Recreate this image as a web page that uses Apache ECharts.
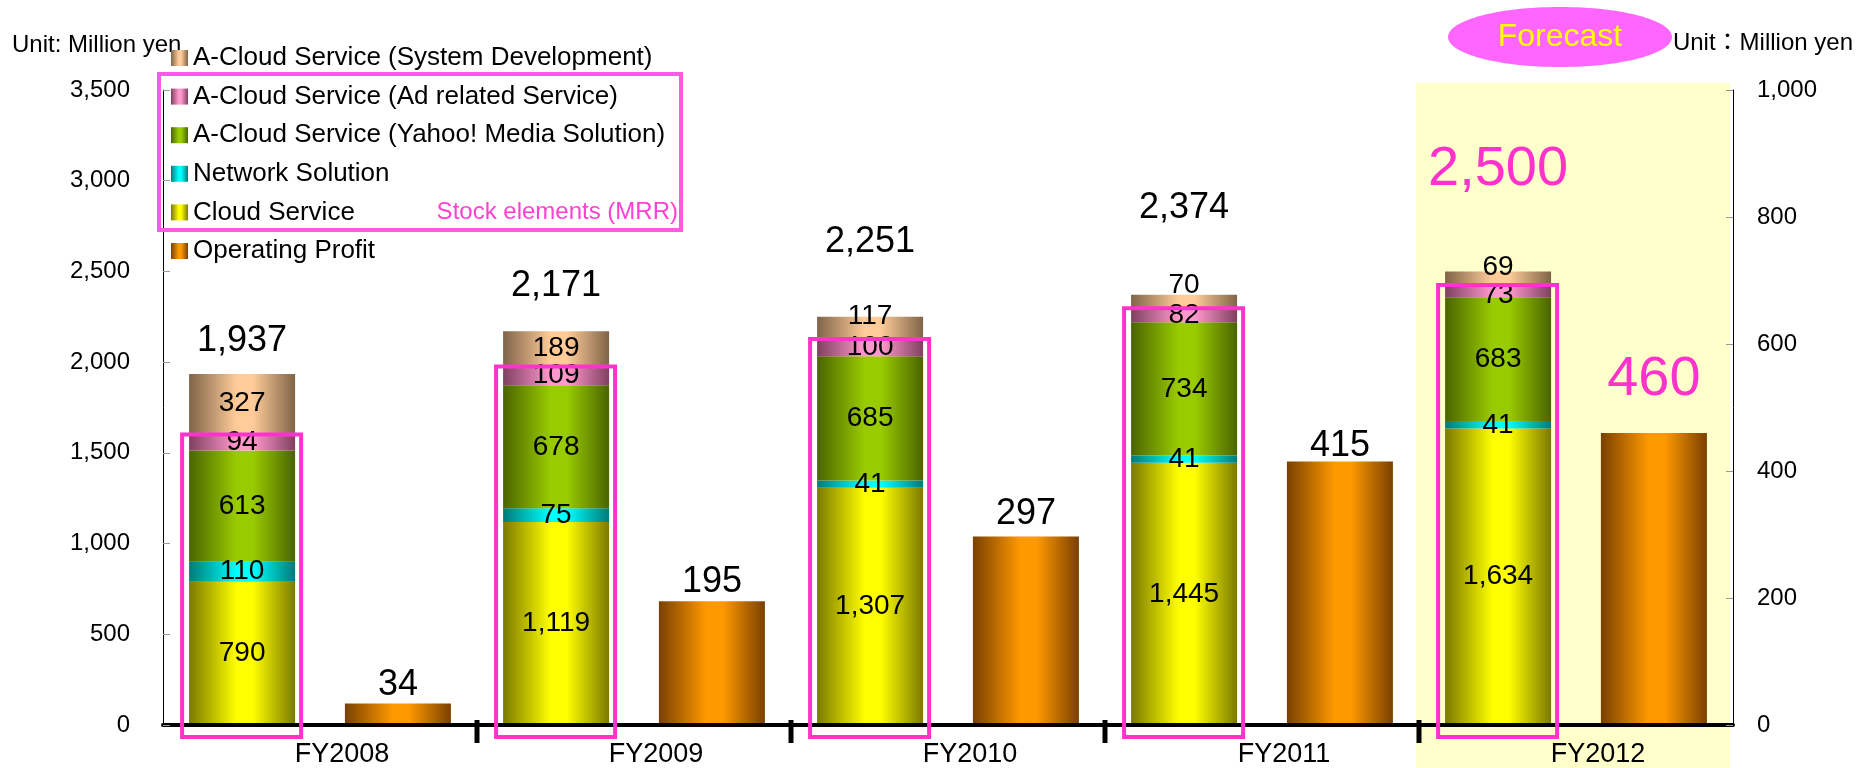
<!DOCTYPE html>
<html>
<head>
<meta charset="utf-8">
<title>Sales and Operating Profit</title>
<script src="https://cdn.jsdelivr.net/npm/echarts@6/dist/echarts.min.js"></script>
<style>
  html, body { margin: 0; padding: 0; background: #ffffff; }
  #chart { width: 1858px; height: 768px; }
</style>
</head>
<body>
<div id="chart"></div>
<script>
// ---- data ----
const categories = ['FY2008', 'FY2009', 'FY2010', 'FY2011', 'FY2012'];
const cloudService = [790, 1119, 1307, 1445, 1634];
const networkSolution = [110, 75, 41, 41, 41];
const yahooMediaSolution = [613, 678, 685, 734, 683];
const adRelatedService = [94, 109, 100, 82, 73];
const systemDevelopment = [327, 189, 117, 70, 69];
const salesTotals = [1937, 2171, 2251, 2374, 2500];
const operatingProfit = [34, 195, 297, 415, 460];
const forecastCategory = 'FY2012';

// axis scales
const salesAxis = { min: 0, max: 3500, interval: 500 };
const profitAxis = { min: 0, max: 1000, interval: 200 };

// ---- layout & style ----
const FONT = '"Liberation Sans", Arial, "Noto Sans CJK JP", sans-serif';
const PINK = '#FF33CC';
const BAR_W = 106;
const BAR_GAP = 0.47;
// lift of the total labels above each stack (px)
const totalLabelLift = [15, 27, 57, 69, 74];
// gap between each profit bar and its label (px)
const profitLabelGap = [0, 1, 4, -3, 25];
// vertical nudges for labels on the thin top segments (px)
const sysDevLabelNudge = [0, 0, -11, -16, -10];
const adLabelNudge = [0, 0, 0, 0, 5];

const fmt = v => Number(v).toLocaleString('en-US');
const forecastIndex = categories.indexOf(forecastCategory);

function barGrad(dark, light) {
  return new echarts.graphic.LinearGradient(0, 0, 1, 0, [
    { offset: 0, color: dark },
    { offset: 0.45, color: light },
    { offset: 0.6, color: light },
    { offset: 1, color: dark }
  ]);
}

function segment(name, values, dark, light, nudges) {
  return {
    name: name,
    type: 'bar',
    stack: 'sales',
    barWidth: BAR_W,
    barGap: (BAR_GAP * 100) + '%',
    itemStyle: { color: barGrad(dark, light) },
    emphasis: { disabled: true },
    label: {
      show: true, position: 'inside', color: '#000', fontSize: 28, fontFamily: FONT,
      formatter: p => fmt(p.value)
    },
    data: values.map((v, i) => nudges ? { value: v, label: { offset: [0, nudges[i]] } } : v)
  };
}

// top of the recurring-revenue part of each stack
const mrrTop = categories.map((c, i) =>
  cloudService[i] + networkSolution[i] + yahooMediaSolution[i] + adRelatedService[i]);

const chart = echarts.init(document.getElementById('chart'), null, { renderer: 'canvas' });

const option = {
  animation: false,
  backgroundColor: '#ffffff',
  textStyle: { fontFamily: FONT },
  grid: { left: 163, right: 125, top: 90, bottom: 43, containLabel: false },
  legend: {
    orient: 'vertical',
    left: 166,
    top: 40,
    itemWidth: 17,
    itemHeight: 16,
    itemGap: 12.6,
    icon: 'rect',
    selectedMode: false,
    textStyle: { fontSize: 26, color: '#000', fontFamily: FONT },
    data: [
      'A-Cloud Service (System Development)',
      'A-Cloud Service (Ad related Service)',
      'A-Cloud Service (Yahoo! Media Solution)',
      'Network Solution',
      'Cloud Service',
      'Operating Profit'
    ]
  },
  xAxis: {
    type: 'category',
    data: categories,
    offset: 2,
    z: 10,
    axisLine: { show: true, lineStyle: { color: '#000', width: 4 } },
    axisTick: { show: false },
    axisLabel: { fontSize: 27, color: '#000', margin: 14, padding: [0, 0, 0, 44], fontFamily: FONT },
    splitLine: { show: false }
  },
  yAxis: [
    {
      type: 'value', position: 'left',
      min: salesAxis.min, max: salesAxis.max, interval: salesAxis.interval,
      z: 10,
      axisLine: { show: true, lineStyle: { color: '#000', width: 1 } },
      axisTick: { show: true, inside: true, length: 7, lineStyle: { color: '#999' } },
      axisLabel: { fontSize: 24, color: '#000', margin: 33, formatter: v => fmt(v), fontFamily: FONT },
      splitLine: { show: false }
    },
    {
      type: 'value', position: 'right',
      min: profitAxis.min, max: profitAxis.max, interval: profitAxis.interval,
      z: 10,
      axisLine: { show: true, lineStyle: { color: '#000', width: 1 } },
      axisTick: { show: true, inside: true, length: 7, lineStyle: { color: '#999' } },
      axisLabel: { fontSize: 24, color: '#000', margin: 24, formatter: v => fmt(v), fontFamily: FONT },
      splitLine: { show: false }
    }
  ],
  series: [
    // forecast year shading
    {
      type: 'custom',
      name: 'forecastBand',
      z: 0,
      silent: true,
      data: [[forecastIndex, salesAxis.max]],
      renderItem: function (params, api) {
        const c = api.coord([api.value(0), api.value(1)]);
        const band = api.size([1, 0])[0];
        const top = c[1] - 7;
        return {
          type: 'rect',
          shape: { x: c[0] - band / 2 - 3, y: top, width: band, height: api.getHeight() - top },
          style: { fill: '#FFFFCC' }
        };
      }
    },
    segment('Cloud Service', cloudService, '#7A7A00', '#FFFF00'),
    segment('Network Solution', networkSolution, '#007A7A', '#00FFFF'),
    segment('A-Cloud Service (Yahoo! Media Solution)', yahooMediaSolution, '#4A6400', '#99CC00'),
    segment('A-Cloud Service (Ad related Service)', adRelatedService, '#7F4060', '#FF99CC', adLabelNudge),
    segment('A-Cloud Service (System Development)', systemDevelopment, '#7F6448', '#FFCC99', sysDevLabelNudge),
    // stack totals
    {
      name: 'Total',
      type: 'bar',
      stack: 'sales',
      barWidth: BAR_W,
      barGap: (BAR_GAP * 100) + '%',
      itemStyle: { color: 'rgba(0,0,0,0)' },
      emphasis: { disabled: true },
      label: {
        show: true, position: 'top', color: '#000', fontSize: 36, fontFamily: FONT,
        formatter: p => fmt(salesTotals[p.dataIndex])
      },
      data: salesTotals.map((t, i) => ({
        value: 0,
        label: i === forecastIndex
          ? { distance: totalLabelLift[i], color: PINK, fontSize: 56 }
          : { distance: totalLabelLift[i] }
      }))
    },
    {
      name: 'Operating Profit',
      type: 'bar',
      yAxisIndex: 1,
      stack: 'profit',
      barWidth: BAR_W,
      barGap: (BAR_GAP * 100) + '%',
      itemStyle: { color: barGrad('#7A4000', '#FF9900') },
      emphasis: { disabled: true },
      label: {
        show: true, position: 'top', color: '#000', fontSize: 36, fontFamily: FONT,
        formatter: p => fmt(p.value)
      },
      data: operatingProfit.map((v, i) => i === forecastIndex
        ? { value: v, label: { color: PINK, fontSize: 56, distance: profitLabelGap[i] } }
        : { value: v, label: { distance: profitLabelGap[i] } })
    },
    // boxes marking the recurring-revenue part of each stack
    {
      type: 'custom',
      name: 'mrrBox',
      z: 12,
      silent: true,
      data: mrrTop.map((v, i) => [i, v]),
      renderItem: function (params, api) {
        const base = api.coord([api.value(0), 0]);
        const top = api.coord([api.value(0), api.value(1)]);
        const groupW = BAR_W * 2 + BAR_W * BAR_GAP;
        const barLeft = base[0] - groupW / 2;
        return {
          type: 'rect',
          shape: { x: barLeft - 7, y: top[1] + 1, width: BAR_W + 13, height: base[1] - top[1] + 11 },
          style: { fill: 'none', stroke: PINK, lineWidth: 4 }
        };
      }
    },
    // thick separators between fiscal years on the base line
    {
      type: 'custom',
      name: 'yearSeparator',
      z: 13,
      silent: true,
      data: categories.slice(1).map((c, i) => [i + 1, 0]),
      renderItem: function (params, api) {
        const c = api.coord([api.value(0), api.value(1)]);
        const band = api.size([1, 0])[0];
        return {
          type: 'rect',
          shape: { x: c[0] - band / 2 - 2.5, y: c[1] - 5, width: 5, height: 23 },
          style: { fill: '#000' }
        };
      }
    }
  ],
  graphic: [
    {
      type: 'text', left: 12, top: 33, silent: true,
      style: { text: 'Unit: Million yen', fontSize: 24, fill: '#000', fontFamily: FONT }
    },
    {
      type: 'text', right: 5, top: 31, silent: true,
      style: { text: 'Unit：Million yen', fontSize: 24, fill: '#000', fontFamily: FONT }
    },
    {
      type: 'ellipse', silent: true,
      shape: { cx: 1560, cy: 37, rx: 112, ry: 30 },
      style: { fill: '#FF66FF' }
    },
    {
      type: 'text', silent: true, x: 1560, y: 37,
      style: { text: 'Forecast', fontSize: 32, fill: '#FFFF00', align: 'center', verticalAlign: 'middle', fontFamily: FONT }
    },
    {
      type: 'rect', silent: true, z: 20,
      shape: { x: 159, y: 74, width: 522, height: 156 },
      style: { fill: 'none', stroke: '#FF5AE6', lineWidth: 4 }
    },
    {
      type: 'text', silent: true, x: 678, y: 212,
      style: { text: 'Stock elements (MRR)', fontSize: 24, fill: '#FF40D0', align: 'right', verticalAlign: 'middle', fontFamily: FONT }
    }
  ]
};

chart.setOption(option);
</script>
</body>
</html>
